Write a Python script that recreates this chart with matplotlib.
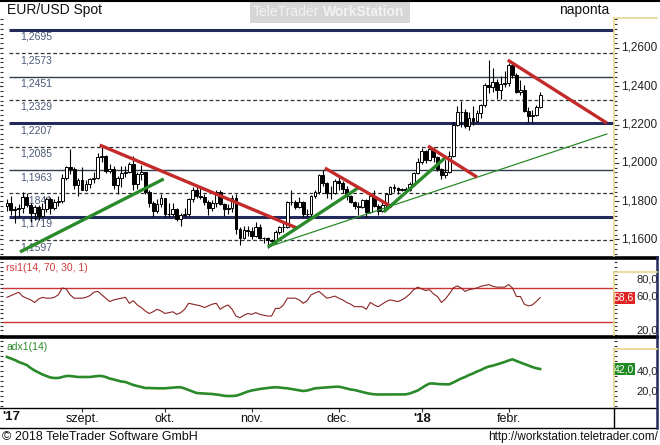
import numpy as np
import matplotlib.pyplot as plt
from matplotlib.lines import Line2D
from matplotlib.patches import Rectangle
from matplotlib.ticker import FixedLocator

plt.rcParams['font.family'] = ['Liberation Sans', 'DejaVu Sans']

W, H = 660, 445

# EUR/USD daily candles, 2017-08-07 .. 2018-02-13 (one entry per trading day)
opens = [1.1775, 1.1792, 1.1755, 1.1757, 1.1765, 1.1822, 1.1780, 1.1737, 1.1770, 1.1724,
         1.1761, 1.1813, 1.1762, 1.1798, 1.1800, 1.1922, 1.1976, 1.1966, 1.1886, 1.1910,
         1.1860, 1.1890, 1.1916, 1.1920, 1.2030, 1.2035, 1.1960, 1.1967, 1.1886, 1.1920,
         1.1945, 1.1952, 1.1995, 1.1890, 1.1940, 1.1950, 1.1850, 1.1792, 1.1750, 1.1783,
         1.1815, 1.1735, 1.1735, 1.1760, 1.1705, 1.1730, 1.1735, 1.1810, 1.1860, 1.1825,
         1.1820, 1.1795, 1.1765, 1.1790, 1.1850, 1.1785, 1.1760, 1.1765, 1.1815, 1.1655,
         1.1608, 1.1650, 1.1645, 1.1620, 1.1665, 1.1610, 1.1610, 1.1595, 1.1590, 1.1640,
         1.1665, 1.1665, 1.1795, 1.1795, 1.1770, 1.1795, 1.1735, 1.1735, 1.1825, 1.1850,
         1.1935, 1.1895, 1.1845, 1.1845, 1.1905, 1.1895, 1.1865, 1.1825, 1.1795, 1.1775,
         1.1770, 1.1805, 1.1745, 1.1825, 1.1775, 1.1750, 1.1780, 1.1840, 1.1875, 1.1870,
         1.1860, 1.1865, 1.1860, 1.1890, 1.1945, 1.2005, 1.2060, 1.2015, 1.2070, 1.2030,
         1.1967, 1.1935, 1.1950, 1.2035, 1.2200, 1.2265, 1.2265, 1.2195, 1.2235, 1.2220,
         1.2260, 1.2300, 1.2408, 1.2395, 1.2425, 1.2380, 1.2410, 1.2415, 1.2510, 1.2460,
         1.2370, 1.2380, 1.2270, 1.2245, 1.2250, 1.2290]
highs = [1.1809, 1.1825, 1.1776, 1.1784, 1.1846, 1.1845, 1.1790, 1.1780, 1.1780, 1.1790,
         1.1820, 1.1820, 1.1810, 1.1825, 1.1940, 1.1983, 1.2070, 1.1980, 1.1920, 1.1980,
         1.1910, 1.1920, 1.1950, 1.2050, 1.2092, 1.2040, 1.1995, 1.1985, 1.1930, 1.1985,
         1.1985, 1.2005, 1.2035, 1.1950, 1.1990, 1.1955, 1.1860, 1.1800, 1.1810, 1.1835,
         1.1815, 1.1790, 1.1790, 1.1765, 1.1740, 1.1765, 1.1815, 1.1875, 1.1880, 1.1870,
         1.1835, 1.1805, 1.1805, 1.1860, 1.1860, 1.1790, 1.1785, 1.1830, 1.1840, 1.1665,
         1.1670, 1.1670, 1.1665, 1.1690, 1.1680, 1.1615, 1.1615, 1.1605, 1.1650, 1.1670,
         1.1685, 1.1800, 1.1860, 1.1805, 1.1820, 1.1800, 1.1760, 1.1830, 1.1860, 1.1940,
         1.1961, 1.1900, 1.1880, 1.1915, 1.1930, 1.1905, 1.1880, 1.1830, 1.1800, 1.1795,
         1.1810, 1.1810, 1.1835, 1.1860, 1.1785, 1.1800, 1.1845, 1.1880, 1.1890, 1.1875,
         1.1870, 1.1875, 1.1900, 1.1950, 1.2025, 1.2080, 1.2065, 1.2089, 1.2085, 1.2035,
         1.1975, 1.2015, 1.2060, 1.2215, 1.2296, 1.2323, 1.2280, 1.2265, 1.2295, 1.2275,
         1.2310, 1.2415, 1.2537, 1.2495, 1.2440, 1.2455, 1.2480, 1.2523, 1.2518, 1.2470,
         1.2435, 1.2405, 1.2290, 1.2275, 1.2300, 1.2370]
lows = [1.1750, 1.1730, 1.1688, 1.1720, 1.1740, 1.1770, 1.1689, 1.1700, 1.1700, 1.1715,
        1.1745, 1.1735, 1.1755, 1.1775, 1.1790, 1.1910, 1.1940, 1.1865, 1.1825, 1.1858,
        1.1855, 1.1870, 1.1895, 1.1915, 1.2005, 1.1945, 1.1945, 1.1865, 1.1835, 1.1875,
        1.1925, 1.1945, 1.1860, 1.1862, 1.1910, 1.1835, 1.1770, 1.1718, 1.1740, 1.1770,
        1.1715, 1.1720, 1.1725, 1.1695, 1.1668, 1.1715, 1.1725, 1.1795, 1.1815, 1.1810,
        1.1780, 1.1730, 1.1750, 1.1770, 1.1780, 1.1725, 1.1735, 1.1745, 1.1630, 1.1573,
        1.1600, 1.1620, 1.1600, 1.1615, 1.1600, 1.1580, 1.1555, 1.1570, 1.1575, 1.1630,
        1.1640, 1.1660, 1.1780, 1.1760, 1.1765, 1.1720, 1.1720, 1.1725, 1.1815, 1.1840,
        1.1880, 1.1815, 1.1810, 1.1835, 1.1860, 1.1845, 1.1805, 1.1790, 1.1760, 1.1730,
        1.1765, 1.1720, 1.1740, 1.1770, 1.1730, 1.1745, 1.1770, 1.1835, 1.1850, 1.1840,
        1.1855, 1.1850, 1.1855, 1.1880, 1.1940, 1.1995, 1.2000, 1.2010, 1.2005, 1.1960,
        1.1915, 1.1920, 1.1945, 1.2030, 1.2195, 1.2190, 1.2180, 1.2170, 1.2200, 1.2215,
        1.2235, 1.2290, 1.2365, 1.2370, 1.2335, 1.2335, 1.2395, 1.2400, 1.2445, 1.2365,
        1.2355, 1.2265, 1.2215, 1.2206, 1.2245, 1.2285]
closes = [1.1792, 1.1755, 1.1757, 1.1765, 1.1822, 1.1780, 1.1737, 1.1770, 1.1724, 1.1761,
          1.1813, 1.1762, 1.1798, 1.1800, 1.1922, 1.1976, 1.1966, 1.1886, 1.1910, 1.1860,
          1.1890, 1.1916, 1.1920, 1.2030, 1.2035, 1.1960, 1.1967, 1.1886, 1.1920, 1.1945,
          1.1952, 1.1995, 1.1890, 1.1940, 1.1950, 1.1850, 1.1792, 1.1750, 1.1783, 1.1815,
          1.1735, 1.1735, 1.1760, 1.1705, 1.1730, 1.1735, 1.1810, 1.1860, 1.1825, 1.1820,
          1.1795, 1.1765, 1.1790, 1.1850, 1.1785, 1.1760, 1.1765, 1.1815, 1.1655, 1.1608,
          1.1650, 1.1645, 1.1620, 1.1665, 1.1610, 1.1610, 1.1595, 1.1590, 1.1640, 1.1665,
          1.1665, 1.1795, 1.1795, 1.1770, 1.1795, 1.1735, 1.1735, 1.1825, 1.1850, 1.1935,
          1.1895, 1.1845, 1.1845, 1.1905, 1.1895, 1.1865, 1.1825, 1.1795, 1.1775, 1.1770,
          1.1805, 1.1745, 1.1825, 1.1775, 1.1750, 1.1780, 1.1840, 1.1875, 1.1870, 1.1860,
          1.1865, 1.1860, 1.1890, 1.1945, 1.2005, 1.2060, 1.2015, 1.2070, 1.2030, 1.1967,
          1.1935, 1.1950, 1.2035, 1.2200, 1.2265, 1.2265, 1.2195, 1.2235, 1.2220, 1.2260,
          1.2300, 1.2408, 1.2395, 1.2425, 1.2380, 1.2410, 1.2415, 1.2510, 1.2460, 1.2370,
          1.2380, 1.2270, 1.2245, 1.2250, 1.2290, 1.2355]

rsi = [59, 61, 63, 65, 60, 58, 56, 53, 57, 59,
       58, 58, 59, 62, 70, 69, 62, 58, 58, 58,
       59, 61, 65, 66, 62, 58, 54, 56, 57, 58,
       59, 52, 55, 50, 47, 43, 40, 42, 45, 43,
       40, 41, 42, 39, 41, 45, 52, 51, 50, 49,
       47, 49, 51, 52, 45, 48, 50, 45, 37, 35,
       38, 40, 39, 41, 39, 38, 37, 37, 46, 46,
       50, 58, 58, 58, 56, 52, 55, 62, 64, 66,
       62, 58, 59, 60.5, 58, 56, 53, 51, 48, 48,
       48, 45, 53, 50, 48, 51, 54, 56, 55, 54,
       56, 59, 63, 68, 71, 69, 67, 68, 63, 60,
       53, 57, 63, 70, 72.5, 70, 66, 68, 69, 70,
       72, 73, 74, 72, 71, 71, 71, 74, 70, 60,
       60, 51, 49, 50, 54, 58.6]
adx = [54, 52.5, 51, 49, 47.5, 46, 43, 40.5, 38.5, 36.5,
       35, 33.5, 33, 33, 34, 35, 35, 34.5, 34, 34,
       34, 34, 34.5, 35, 35, 34, 32.5, 31.5, 30.5, 29.5,
       29, 27.5, 26, 25, 24, 23, 23, 22.8, 22.7, 22.7,
       22.7, 23, 23.3, 23.7, 23.7, 22.5, 21, 19.5, 18, 17.7,
       17.5, 17.2, 17, 16.5, 16, 15.2, 15, 15, 15.3, 16.5,
       18, 19.5, 20.5, 21.3, 22, 22.5, 23, 23.5, 23.7, 23.5,
       23, 22.7, 22, 21.2, 20.5, 20, 20.5, 21.5, 22.7, 23,
       23.3, 23.7, 24, 24.2, 24.3, 23.5, 22.5, 21.5, 21, 20,
       19, 18, 17.2, 16.7, 16.5, 16.5, 16.5, 16.5, 16.5, 16.6,
       16.6, 16.7, 17.5, 19, 20.5, 23, 25.5, 27.5, 27.5, 27,
       26.8, 26.7, 26.7, 28.5, 30.5, 32.5, 34, 36, 37.5, 39.5,
       41, 43, 44.5, 45.3, 46.5, 47.7, 49, 50.5, 51.7, 50,
       48.5, 47, 45.5, 44, 42.8, 42]
rsi_last = 58.6
adx_last = 42.0

# first trading day of each month (index into the candles)
month_pos = [19, 40, 62, 84, 105, 127]
month_lbl = ['szept.', 'okt.', 'nov.', 'dec.', "'18", 'febr.']

levels = [1.2695, 1.2573, 1.2451, 1.2329, 1.2207, 1.2085, 1.1963, 1.1841, 1.1719, 1.1597]
level_lbl = ['1,2695', '1,2573', '1,2451', '1,2329', '1,2207',
             '1,2085', '1,1963', '1,1841', '1,1719', '1,1597']
level_kind = ['thick', 'dash', 'thin', 'dash', 'thick', 'dash', 'thin', 'dash', 'thick', 'dash']

price_ticks = [1.16, 1.18, 1.20, 1.22, 1.24, 1.26]
price_lbl = ['1,1600', '1,1800', '1,2000', '1,2200', '1,2400', '1,2600']

# trend lines (start day, start price, end day, end price)
tl_x0 = [3.3, 23.5, 66.1, 66.1, 80.5, 95.4, 106.6, 126.8]
tl_p0 = [1.1535, 1.2093, 1.1561, 1.1561, 1.1973, 1.1744, 1.2088, 1.2537]
tl_x1 = [39.7, 73.4, 88.9, 151.9, 97.5, 110.9, 119.0, 151.9]
tl_p1 = [1.1916, 1.1660, 1.1869, 1.2151, 1.1770, 1.2026, 1.1926, 1.2208]
tl_kind = ['green', 'red', 'green', 'thin', 'red', 'green', 'red', 'red']

NAVY = '#222a5c'
RED = '#c32a2a'
GREEN = '#2a8a2a'
YELLOW = '#e8d68c'


def rect(l, t, r, b):
    return [l / W, 1 - b / H, (r - l) / W, (b - t) / H]


def fline(x0, y0, x1, y1, color='black', lw=1.0):
    fig.add_artist(Line2D([x0 / W, x1 / W], [1 - y0 / H, 1 - y1 / H],
                          color=color, lw=lw, transform=fig.transFigure))


fig = plt.figure(figsize=(6.6, 4.45), dpi=100)
xlim = (-1.0, 153.7)
idx = np.arange(len(closes))

# ---------------- main price panel
ax = fig.add_axes(rect(3, 1, 614, 256))
ax.set_xlim(*xlim)
ax.set_ylim(1.15138, 1.28454)

for lv, lb, kd in zip(levels, level_lbl, level_kind):
    if kd == 'thick':
        ax.hlines(lv, 0.5, xlim[1], color=NAVY, lw=2.2, zorder=1)
    elif kd == 'thin':
        ax.hlines(lv, 0.5, xlim[1], color='#2e3c4c', lw=1.0, zorder=1)
    else:
        ax.hlines(lv, 0.5, xlim[1], color='#333333', lw=0.9, linestyles=(0, (3, 2)), zorder=1)
    ax.text(3.3, lv - 0.0037, lb, fontsize=7.5, color='#4a5878', va='center', zorder=1)

ax.vlines(idx, lows, highs, color='black', lw=0.8, zorder=3)
o = np.array(opens)
c = np.array(closes)
up = c >= o
ax.bar(idx[up], (c - o)[up], bottom=o[up], width=0.72, color='white',
       edgecolor='black', lw=0.7, zorder=4)
ax.bar(idx[~up], (o - c)[~up], bottom=c[~up], width=0.72, color='black',
       edgecolor='black', lw=0.7, zorder=4)

for x0, p0, x1, p1, kd in zip(tl_x0, tl_p0, tl_x1, tl_p1, tl_kind):
    if kd == 'red':
        ax.plot([x0, x1], [p0, p1], color=RED, lw=2.4, zorder=5, solid_capstyle='butt')
    elif kd == 'green':
        ax.plot([x0, x1], [p0, p1], color=GREEN, lw=2.4, zorder=5, solid_capstyle='butt')
    else:
        ax.plot([x0, x1], [p0, p1], color=GREEN, lw=0.9, zorder=5)

ax.yaxis.set_major_locator(FixedLocator(price_ticks))
ax.yaxis.set_minor_locator(FixedLocator(np.arange(1.1525, 1.2755, 0.0025)))
ax.tick_params(axis='y', which='both', left=True, right=True, labelleft=False,
               labelright=False, direction='out', color='#333333', width=0.8)
ax.tick_params(axis='y', which='major', length=3.5)
ax.tick_params(axis='y', which='minor', length=2.5)
ax.set_xticks([])
for p, lb in zip(price_ticks, price_lbl):
    ax.text(1.0704, p, lb, transform=ax.get_yaxis_transform(), ha='right',
            va='center', fontsize=8.5, color='#222222')
for s in ax.spines.values():
    s.set_visible(False)

# ---------------- RSI panel
ax_r = fig.add_axes(rect(3, 259, 614, 335))
ax_r.set_xlim(*xlim)
ax_r.set_ylim(14.7, 104.1)
ax_r.axhline(70, color='#cc3333', lw=1.0)
ax_r.axhline(30, color='#cc3333', lw=1.0)
ax_r.plot(idx, rsi, color='#8a2424', lw=0.8)
ax_r.text(0.005, 0.88, 'rsi1(14, 70, 30, 1)', transform=ax_r.transAxes,
          fontsize=7.5, color='#d03a3a', va='center')
ax_r.yaxis.set_major_locator(FixedLocator([20, 60, 80]))
ax_r.yaxis.set_minor_locator(FixedLocator(np.arange(15, 101, 5)))
ax_r.tick_params(axis='y', which='both', left=True, right=True, labelleft=False,
                 labelright=False, direction='out', color='#333333', width=0.8, length=2.5)
ax_r.set_xticks([])
for v in [20, 60, 80]:
    ax_r.text(1.0720, v, f'{v},0', transform=ax_r.get_yaxis_transform(), ha='right',
              va='center', fontsize=8, color='#222222')
ax_r.text(0.9995, rsi_last, f'{rsi_last:.1f}'.replace('.', ','), transform=ax_r.get_yaxis_transform(),
          ha='left', va='center', fontsize=7.5, color='white', zorder=6,
          bbox=dict(facecolor='#e02222', edgecolor='none', pad=0.6))
for s in ax_r.spines.values():
    s.set_visible(False)

# ---------------- ADX panel
ax_a = fig.add_axes(rect(3, 338, 614, 407))
ax_a.set_xlim(*xlim)
ax_a.set_ylim(4, 73)
ax_a.plot(idx, adx, color=GREEN, lw=1.9)
ax_a.text(0.005, 0.87, 'adx1(14)', transform=ax_a.transAxes,
          fontsize=7.5, color=GREEN, va='center')
ax_a.yaxis.set_major_locator(FixedLocator([20, 40]))
ax_a.yaxis.set_minor_locator(FixedLocator(np.arange(5, 71, 5)))
ax_a.tick_params(axis='y', which='both', left=True, right=True, labelleft=False,
                 labelright=False, direction='out', color='#333333', width=0.8, length=2.5)
ax_a.set_xticks([])
for v in [20, 40]:
    ax_a.text(1.0720, v, f'{v},0', transform=ax_a.get_yaxis_transform(), ha='right',
              va='center', fontsize=8, color='#222222')
ax_a.text(0.9995, adx_last, f'{adx_last:.1f}'.replace('.', ','), transform=ax_a.get_yaxis_transform(),
          ha='left', va='center', fontsize=7.5, color='white', zorder=6,
          bbox=dict(facecolor='#1f8a1f', edgecolor='none', pad=0.6))
for s in ax_a.spines.values():
    s.set_visible(False)

# ---------------- date row
ax_d = fig.add_axes(rect(3, 408, 614, 427))
ax_d.set_xlim(*xlim)
ax_d.set_ylim(0, 1)
ax_d.set_yticks([])
ax_d.set_xticks(month_pos)
ax_d.tick_params(axis='x', direction='in', length=3, top=True, bottom=False,
                 labelbottom=False, color='#333333')
for s in ax_d.spines.values():
    s.set_visible(False)
for p, lb in zip(month_pos, month_lbl):
    bold = lb.startswith("'")
    ax_d.text(p, 0.42, lb, ha='center', va='center', fontsize=9.5 if bold else 9,
              fontweight='bold' if bold else 'normal', color='#111111')
fig.text(2 / W, 1 - 417.5 / H, "'17", fontsize=9.5, fontweight='bold', va='center', color='#111111')

# ---------------- frame lines and boxes
fline(0, 0.5, 660, 0.5, 'black', 1.5)
fline(0, 257.5, 657, 257.5, 'black', 2.6)
fline(0, 336.5, 657, 336.5, 'black', 2.6)
fline(0, 407.5, 657, 407.5, 'black', 1.0)
fline(0, 427.5, 657, 427.5, 'black', 1.0)
fline(614, 408, 614, 427, 'black', 1.0)
fline(657, 257, 657, 428, NAVY, 1.8)
fline(614, 18, 614, 256, YELLOW, 1.2)
fline(614, 18, 657, 18, YELLOW, 1.2)
fline(614, 272, 614, 335, YELLOW, 1.2)
fline(614, 272, 657, 272, YELLOW, 1.2)
fline(614, 349, 614, 406, YELLOW, 1.2)
fline(614, 349, 657, 349, YELLOW, 1.2)

# watermark
fig.add_artist(Rectangle((250 / W, 1 - 23 / H), 160 / W, 21 / H, facecolor='#d6d6d6',
                         edgecolor='none', transform=fig.transFigure))
fig.text(319 / W, 1 - 12.5 / H, 'TeleTrader', fontsize=10, color='#f2f2f2',
         ha='right', va='center')
fig.text(323 / W, 1 - 12.5 / H, 'WorkStation', fontsize=10, color='#f2f2f2',
         ha='left', va='center', fontweight='bold')

# titles and footer
fig.text(7 / W, 1 - 10 / H, 'EUR/USD Spot', fontsize=10, va='center', color='#111111')
fig.text(609 / W, 1 - 10 / H, 'naponta', fontsize=10, ha='right', va='center', color='#111111')
fig.text(2 / W, 1 - 437 / H, '\u00a9 2018 TeleTrader Software GmbH', fontsize=9,
         va='center', color='#111111')
fig.text(658 / W, 1 - 437 / H, 'http://workstation.teletrader.com/', fontsize=8.5,
         ha='right', va='center', color='#111111')

fig.savefig('out.png', dpi=100)
